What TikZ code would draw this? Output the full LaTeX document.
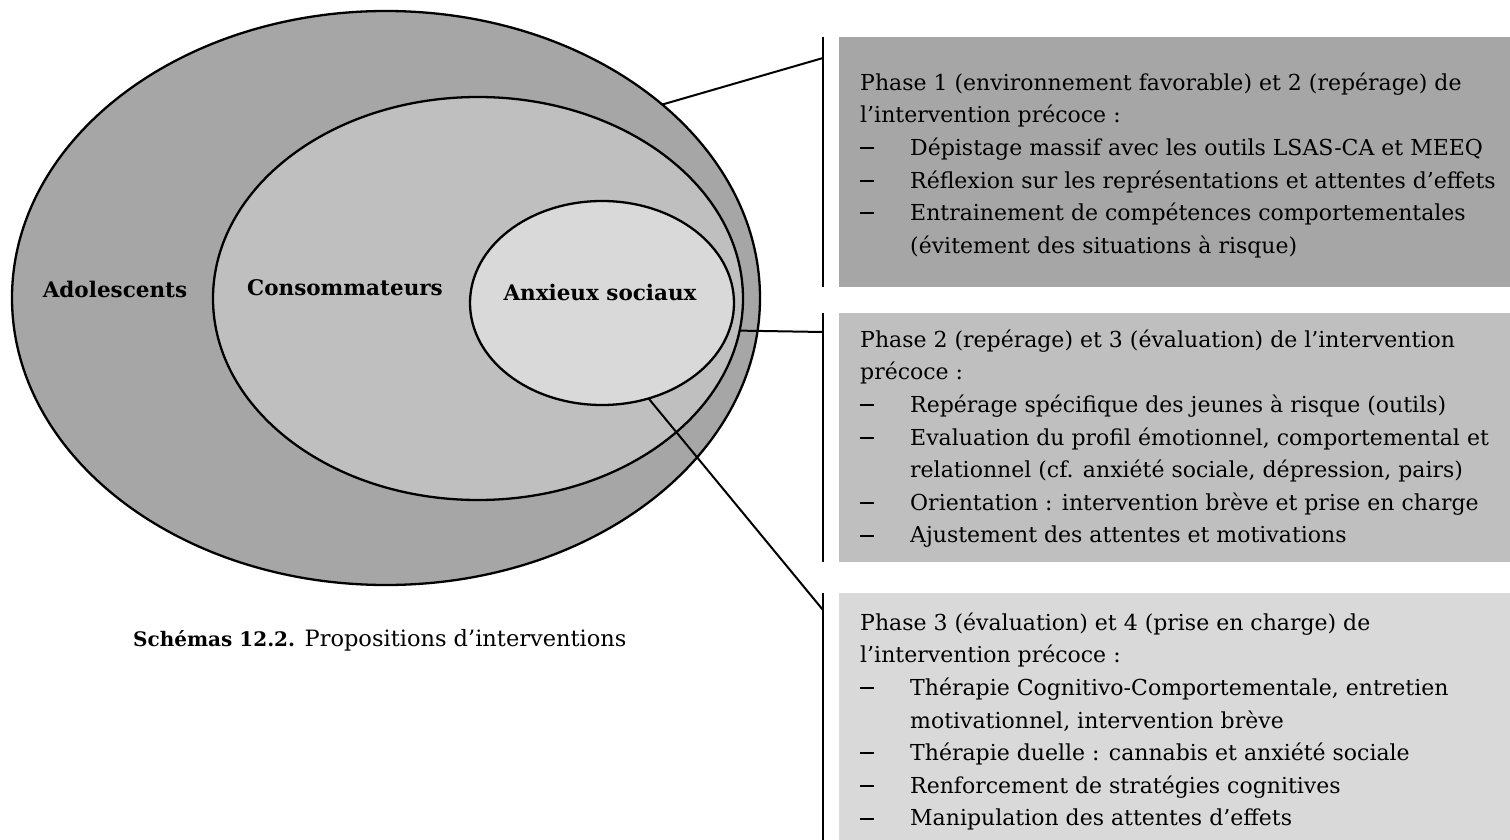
\documentclass[tikz,border=0pt]{standalone}
\usepackage{fontspec}
\setmainfont{DejaVu Serif}
\usetikzlibrary{shapes.geometric}

\definecolor{shadeA}{HTML}{A6A6A6}
\definecolor{shadeB}{HTML}{BFBFBF}
\definecolor{shadeC}{HTML}{D9D9D9}

% list helpers for the panel texts
\newcommand\pdash{\makebox[50pt][l]{\rule[6.2pt]{14pt}{2pt}}}
\newcommand\pcont{\hspace*{50pt}}

\begin{document}
\begin{tikzpicture}[x=1pt,y=-1pt,
  zone/.style={ellipse, draw=black, line width=2.3pt, inner sep=0pt, outer sep=0pt},
  zonelabel/.style={anchor=base, inner sep=0pt, font=\fontsize{21.5}{26}\selectfont\bfseries},
  panel/.style={anchor=north west, inner sep=0pt, outer sep=0pt, minimum width=672pt},
  paneltext/.style={anchor=north west, inner sep=0pt, align=left, font=\fontsize{22}{32.6}\selectfont},
  link/.style={line width=2pt},
  rail/.style={line width=2.4pt}]

\useasboundingbox (0,0) rectangle (1510,840);

% nested populations
\node[zone, fill=shadeA, minimum width=748pt, minimum height=574pt] (outer) at (386,298) {};
\node[zone, fill=shadeB, minimum width=530pt, minimum height=403pt] (middle) at (478,298.5) {};
\node[zone, fill=shadeC, minimum width=264pt, minimum height=204pt] (inner) at (602,303) {};

\node[zonelabel] (lblA) at (115,297) {Adolescents};
\node[zonelabel] (lblB) at (345,295) {Consommateurs};
\node[zonelabel] (lblC) at (600,300) {Anxieux sociaux};

% panels
\node[panel, fill=shadeA, minimum height=250pt] (p1) at (839,37) {};
\node[panel, fill=shadeB, minimum height=249pt] (p2) at (839,313) {};
\node[panel, fill=shadeC, minimum height=247pt] (p3) at (839,593) {};

\node[paneltext] (t1) at (860,67.2) {\strut Phase 1 (environnement favorable) et 2 (repérage) de\\
l’intervention précoce :\\
\pdash Dépistage massif avec les outils LSAS-CA et MEEQ\\
\pdash Réflexion sur les représentations et attentes d’effets\\
\pdash Entrainement de compétences comportementales\\
\pcont (évitement des situations à risque)};

\node[paneltext] (t2) at (860,324.2) {\strut Phase 2 (repérage) et 3 (évaluation) de l’intervention\\
précoce :\\
\pdash Repérage spécifique des jeunes à risque (outils)\\
\pdash Evaluation du profil émotionnel, comportemental et\\
\pcont relationnel (cf. anxiété sociale, dépression, pairs)\\
\pdash Orientation : intervention brève et prise en charge\\
\pdash Ajustement des attentes et motivations};

\node[paneltext] (t3) at (860,607.2) {\strut Phase 3 (évaluation) et 4 (prise en charge) de\\
l’intervention précoce :\\
\pdash Thérapie Cognitivo-Comportementale, entretien\\
\pcont motivationnel, intervention brève\\
\pdash Thérapie duelle : cannabis et anxiété sociale\\
\pdash Renforcement de stratégies cognitives\\
\pdash Manipulation des attentes d’effets};

% rails beside the panels
\coordinate (r1t) at (823,37);  \coordinate (r1b) at (823,287);
\coordinate (r2t) at (823,313); \coordinate (r2b) at (823,562);
\coordinate (r3t) at (823,593); \coordinate (r3b) at (823,840);
\draw[rail] (r1t) -- (r1b);
\draw[rail] (r2t) -- (r2b);
\draw[rail] (r3t) -- (r3b);

% connectors from each population to its panel
\coordinate (j1) at (823,58);
\coordinate (j2) at (823,332);
\coordinate (j3) at (823,610);
\draw[link] (outer.35) -- (j1);
\draw[link] (middle.-7.4) -- (j2);
\draw[link] (inner.-64.4) -- (j3);

% caption
\node[anchor=base west, inner sep=0pt, font=\fontsize{22.5}{26}\selectfont] (cap) at (133,646)
  {{\fontsize{20}{26}\selectfont\bfseries Schémas 12.2.} Propositions d’interventions};
\end{tikzpicture}
\end{document}
